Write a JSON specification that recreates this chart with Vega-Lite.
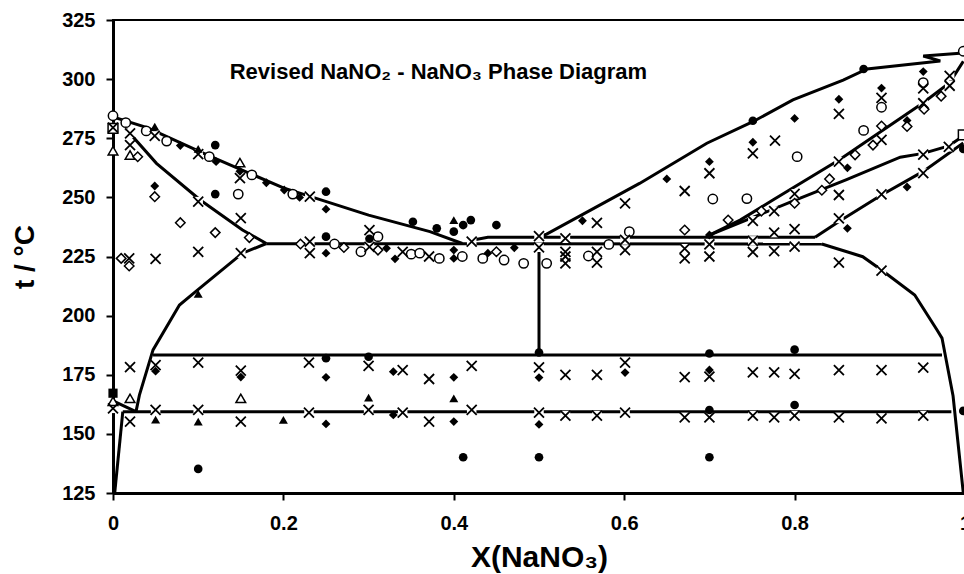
{
  "$schema": "https://vega.github.io/schema/vega-lite/v6.json",
  "width": 852,
  "height": 473,
  "autosize": {"type": "none"},
  "padding": {"left": 113, "top": 20, "right": 0, "bottom": 81},
  "background": "white",
  "config": {
    "view": {"stroke": "black", "strokeWidth": 2},
    "font": "Liberation Sans",
    "axis": {"grid": false, "domainColor": "black", "domainWidth": 3, "tickColor": "black", "tickWidth": 2, "tickSize": 7, "labelColor": "black", "titleColor": "black", "labelFont": "Liberation Sans", "titleFont": "Liberation Sans", "labelFontWeight": "bold", "titleFontWeight": "bold", "labelFontSize": 20}
  },
  "datasets": {
    "lines": [
      {"l":1,"o":0,"x":0,"y":284},{"l":1,"o":1,"x":0.04,"y":279.5},{"l":1,"o":2,"x":0.113,"y":267.5},{"l":1,"o":3,"x":0.2,"y":254},{"l":1,"o":4,"x":0.3,"y":242.5},{"l":1,"o":5,"x":0.372,"y":235.5},{"l":1,"o":6,"x":0.41,"y":230.5},
      {"l":2,"o":0,"x":0.015,"y":279},{"l":2,"o":1,"x":0.051,"y":264.4},{"l":2,"o":2,"x":0.102,"y":249},{"l":2,"o":3,"x":0.152,"y":236.2},{"l":2,"o":4,"x":0.18,"y":230.5},
      {"l":3,"o":0,"x":0.18,"y":230.4},{"l":3,"o":1,"x":0.832,"y":230.3},
      {"l":4,"o":0,"x":0.426,"y":232.2},{"l":4,"o":1,"x":0.44,"y":233.1},{"l":4,"o":2,"x":0.824,"y":233.1},
      {"l":5,"o":0,"x":0.5,"y":230.3},{"l":5,"o":1,"x":0.5,"y":184},
      {"l":6,"o":0,"x":0.5,"y":233.3},{"l":6,"o":1,"x":0.509,"y":234.5},{"l":6,"o":2,"x":0.618,"y":255.9},{"l":6,"o":3,"x":0.697,"y":272.9},{"l":6,"o":4,"x":0.751,"y":282},{"l":6,"o":5,"x":0.798,"y":291.2},{"l":6,"o":6,"x":0.857,"y":299.6},{"l":6,"o":7,"x":0.885,"y":304.3},{"l":6,"o":8,"x":0.971,"y":307.7},{"l":6,"o":9,"x":0.951,"y":309.8},{"l":6,"o":10,"x":0.998,"y":311},
      {"l":7,"o":0,"x":0.7,"y":234},{"l":7,"o":1,"x":0.736,"y":240.4},{"l":7,"o":2,"x":0.775,"y":249},{"l":7,"o":3,"x":0.853,"y":266},{"l":7,"o":4,"x":0.951,"y":290},{"l":7,"o":5,"x":0.982,"y":298.5},{"l":7,"o":6,"x":0.998,"y":307.5},
      {"l":8,"o":0,"x":0.7,"y":234},{"l":8,"o":1,"x":0.8,"y":248.7},{"l":8,"o":2,"x":0.861,"y":257.5},{"l":8,"o":3,"x":0.924,"y":267},{"l":8,"o":4,"x":0.951,"y":268.6},{"l":8,"o":5,"x":0.981,"y":271.8},{"l":8,"o":6,"x":0.998,"y":276},
      {"l":9,"o":0,"x":0.824,"y":233.1},{"l":9,"o":1,"x":0.853,"y":240},{"l":9,"o":2,"x":0.902,"y":251},{"l":9,"o":3,"x":0.951,"y":261},{"l":9,"o":4,"x":0.998,"y":273},
      {"l":10,"o":0,"x":0.832,"y":230.3},{"l":10,"o":1,"x":0.88,"y":224.9},{"l":10,"o":2,"x":0.902,"y":219.3},{"l":10,"o":3,"x":0.941,"y":208.7},{"l":10,"o":4,"x":0.967,"y":194},{"l":10,"o":5,"x":0.973,"y":190.5},{"l":10,"o":6,"x":0.986,"y":166},{"l":10,"o":7,"x":0.998,"y":125},
      {"l":11,"o":0,"x":0.047,"y":183.4},{"l":11,"o":1,"x":0.973,"y":183.4},
      {"l":12,"o":0,"x":0.0115,"y":159.4},{"l":12,"o":1,"x":0.984,"y":159.4},
      {"l":13,"o":0,"x":0.18,"y":230.5},{"l":13,"o":1,"x":0.152,"y":226.4},{"l":13,"o":2,"x":0.098,"y":210.5},{"l":13,"o":3,"x":0.078,"y":204.5},{"l":13,"o":4,"x":0.047,"y":185.5},{"l":13,"o":5,"x":0.031,"y":166.4},{"l":13,"o":6,"x":0.027,"y":159.4},
      {"l":14,"o":0,"x":0.002,"y":125},{"l":14,"o":1,"x":0.0115,"y":159.4},
      {"l":15,"o":0,"x":0,"y":164},{"l":15,"o":1,"x":0.027,"y":159.4}
    ],
    "pts": [
      {"s":"oc","x":0,"y":284.5},{"s":"oc","x":0.015,"y":281.6},{"s":"os","x":0,"y":279.2},{"s":"x","x":0,"y":279.5},{"s":"ot","x":0,"y":269.7},
      {"s":"x","x":0.02,"y":277.1},{"s":"x","x":0.02,"y":272.1},{"s":"ot","x":0.02,"y":267.9},{"s":"od","x":0.029,"y":267.2},{"s":"oc","x":0.039,"y":278.1},
      {"s":"ft","x":0.049,"y":279.9},{"s":"x","x":0.049,"y":276},{"s":"oc","x":0.063,"y":273.8},{"s":"fd","x":0.079,"y":271.9},{"s":"fc","x":0.12,"y":272.1},
      {"s":"x","x":0.1,"y":268.3},{"s":"ft","x":0.1,"y":270.5},{"s":"oc","x":0.113,"y":267.2},{"s":"fd","x":0.121,"y":265.1},{"s":"ot","x":0.149,"y":264.7},
      {"s":"x","x":0.149,"y":258.1},{"s":"fd","x":0.149,"y":261},{"s":"oc","x":0.163,"y":259.5},{"s":"fd","x":0.18,"y":256.2},{"s":"fd","x":0.201,"y":253.1},
      {"s":"oc","x":0.211,"y":251.4},{"s":"x","x":0.231,"y":250.3},{"s":"fc","x":0.25,"y":252.4},{"s":"fd","x":0.049,"y":254.8},{"s":"od","x":0.049,"y":250.3},
      {"s":"fc","x":0.12,"y":251.4},{"s":"oc","x":0.147,"y":251.4},{"s":"x","x":0.1,"y":248.2},{"s":"fd","x":0.219,"y":250},{"s":"fd","x":0.25,"y":245},
      {"s":"fc","x":0.352,"y":239.7},{"s":"od","x":0.079,"y":239.3},{"s":"od","x":0.12,"y":235.1},{"s":"x","x":0.15,"y":241.2},{"s":"od","x":0.16,"y":233},
      {"s":"x","x":0.1,"y":227},{"s":"x","x":0.15,"y":226.4},{"s":"od","x":0.0096,"y":224.2},{"s":"x","x":0.019,"y":224.2},{"s":"od","x":0.019,"y":221},
      {"s":"x","x":0.05,"y":224},{"s":"od","x":0.22,"y":230.3},{"s":"x","x":0.231,"y":231.3},{"s":"x","x":0.231,"y":226.4},{"s":"fc","x":0.25,"y":233.4},
      {"s":"oc","x":0.26,"y":230.3},{"s":"fd","x":0.25,"y":226.4},{"s":"od","x":0.271,"y":228.8},{"s":"x","x":0.301,"y":236.2},{"s":"oc","x":0.311,"y":233.4},
      {"s":"fc","x":0.301,"y":232.5},{"s":"x","x":0.301,"y":229.1},{"s":"oc","x":0.291,"y":227},{"s":"od","x":0.311,"y":227.7},{"s":"fd","x":0.321,"y":228.5},
      {"s":"fd","x":0.331,"y":224},{"s":"x","x":0.34,"y":227},{"s":"oc","x":0.35,"y":226},{"s":"oc","x":0.36,"y":226.4},{"s":"x","x":0.371,"y":225},
      {"s":"fc","x":0.38,"y":236.9},{"s":"ft","x":0.4,"y":240.4},{"s":"fc","x":0.4,"y":235.5},{"s":"fc","x":0.411,"y":238.3},{"s":"fc","x":0.42,"y":240.4},
      {"s":"fc","x":0.45,"y":238.3},{"s":"oc","x":0.383,"y":224.2},{"s":"fd","x":0.4,"y":224.2},{"s":"oc","x":0.41,"y":225},{"s":"x","x":0.421,"y":231.3},
      {"s":"fd","x":0.4,"y":227.7},{"s":"oc","x":0.434,"y":224.2},{"s":"fd","x":0.44,"y":226.4},{"s":"od","x":0.45,"y":227},{"s":"oc","x":0.459,"y":223.5},
      {"s":"fd","x":0.471,"y":228.7},{"s":"oc","x":0.482,"y":222.1},{"s":"x","x":0.5,"y":233.6},{"s":"x","x":0.5,"y":228.9},{"s":"oc","x":0.509,"y":222.1},
      {"s":"x","x":0.531,"y":232.7},{"s":"x","x":0.531,"y":227},{"s":"x","x":0.531,"y":225},{"s":"x","x":0.531,"y":222.1},{"s":"oc","x":0.558,"y":225.2},
      {"s":"x","x":0.568,"y":227},{"s":"x","x":0.568,"y":222.4},{"s":"oc","x":0.582,"y":230.1},{"s":"oc","x":0.606,"y":235.5},{"s":"x","x":0.601,"y":232},
      {"s":"x","x":0.601,"y":227.7},{"s":"x","x":0.601,"y":247.5},{"s":"fd","x":0.551,"y":240.1},{"s":"x","x":0.568,"y":239.2},{"s":"fd","x":0.65,"y":257.8},
      {"s":"x","x":0.671,"y":252.7},{"s":"fd","x":0.7,"y":265.1},{"s":"x","x":0.7,"y":260.2},{"s":"oc","x":0.704,"y":249.3},{"s":"od","x":0.671,"y":236.2},
      {"s":"x","x":0.671,"y":228.3},{"s":"x","x":0.671,"y":224.2},{"s":"fd","x":0.7,"y":234.1},{"s":"x","x":0.7,"y":230.1},{"s":"x","x":0.7,"y":225},
      {"s":"od","x":0.722,"y":240.4},{"s":"fc","x":0.751,"y":282.4},{"s":"fd","x":0.751,"y":273.3},{"s":"x","x":0.751,"y":268.6},{"s":"x","x":0.777,"y":274},
      {"s":"oc","x":0.744,"y":249.5},{"s":"oc","x":0.803,"y":267.2},{"s":"fd","x":0.8,"y":283.4},{"s":"fd","x":0.852,"y":291.5},{"s":"x","x":0.852,"y":285.3},
      {"s":"fc","x":0.881,"y":304.3},{"s":"fd","x":0.902,"y":296.2},{"s":"x","x":0.902,"y":292.1},{"s":"oc","x":0.902,"y":288.1},{"s":"oc","x":0.881,"y":278.3},
      {"s":"od","x":0.902,"y":280.2},{"s":"od","x":0.892,"y":272.1},{"s":"x","x":0.902,"y":274.3},{"s":"od","x":0.871,"y":268},{"s":"x","x":0.852,"y":265.1},
      {"s":"fd","x":0.862,"y":262.5},{"s":"od","x":0.841,"y":257.8},{"s":"od","x":0.832,"y":253},{"s":"x","x":0.8,"y":251.5},{"s":"x","x":0.852,"y":251},
      {"s":"x","x":0.902,"y":251.3},{"s":"fd","x":0.932,"y":254.4},{"s":"x","x":0.951,"y":260.3},{"s":"x","x":0.951,"y":268.1},{"s":"x","x":0.981,"y":271.4},
      {"s":"os","x":0.998,"y":276.4},{"s":"fc","x":0.998,"y":270.5},{"s":"fd","x":0.932,"y":282.5},{"s":"od","x":0.932,"y":280},{"s":"od","x":0.952,"y":287.3},
      {"s":"x","x":0.951,"y":289.8},{"s":"od","x":0.972,"y":292.8},{"s":"x","x":0.982,"y":297.2},{"s":"x","x":0.982,"y":301.4},{"s":"fd","x":0.951,"y":303.2},
      {"s":"oc","x":0.951,"y":298.5},{"s":"x","x":0.951,"y":296.1},{"s":"oc","x":0.998,"y":311.8},{"s":"od","x":0.761,"y":244.2},{"s":"x","x":0.751,"y":240.1},
      {"s":"x","x":0.776,"y":244.2},{"s":"od","x":0.8,"y":247.5},{"s":"x","x":0.8,"y":236.6},{"s":"x","x":0.776,"y":235.1},{"s":"x","x":0.852,"y":241.1},
      {"s":"fd","x":0.862,"y":236.9},{"s":"x","x":0.902,"y":219},{"s":"x","x":0.852,"y":222.4},{"s":"x","x":0.751,"y":231.6},{"s":"x","x":0.751,"y":226.9},
      {"s":"x","x":0.776,"y":227.3},{"s":"x","x":0.8,"y":229.2},
      {"s":"fc","x":0.7,"y":184},{"s":"fc","x":0.8,"y":185.6},{"s":"x","x":0.671,"y":174},{"s":"x","x":0.7,"y":174.2},{"s":"fd","x":0.7,"y":177},
      {"s":"x","x":0.751,"y":176},{"s":"x","x":0.776,"y":176},{"s":"x","x":0.8,"y":175.4},{"s":"x","x":0.852,"y":177},{"s":"x","x":0.902,"y":177},
      {"s":"x","x":0.951,"y":178},{"s":"fc","x":0.8,"y":162.2},{"s":"fc","x":0.7,"y":160.1},{"s":"x","x":0.671,"y":157},{"s":"x","x":0.7,"y":157},
      {"s":"x","x":0.751,"y":157.7},{"s":"x","x":0.776,"y":157},{"s":"x","x":0.8,"y":157.7},{"s":"x","x":0.852,"y":157},{"s":"x","x":0.902,"y":156.6},
      {"s":"x","x":0.951,"y":157.7},{"s":"fc","x":0.998,"y":159.7},{"s":"fc","x":0.7,"y":140.1},{"s":"x","x":0.34,"y":177},{"s":"x","x":0.371,"y":173.2},
      {"s":"fd","x":0.4,"y":173.9},{"s":"x","x":0.421,"y":178.8},{"s":"fc","x":0.5,"y":184.4},{"s":"x","x":0.5,"y":178.1},{"s":"fd","x":0.5,"y":173.8},
      {"s":"x","x":0.531,"y":174.9},{"s":"x","x":0.568,"y":174.9},{"s":"x","x":0.601,"y":180.1},{"s":"fd","x":0.601,"y":175.9},{"s":"ft","x":0.4,"y":165},
      {"s":"x","x":0.34,"y":159},{"s":"x","x":0.371,"y":155.2},{"s":"fd","x":0.4,"y":155.2},{"s":"x","x":0.421,"y":160.1},{"s":"x","x":0.5,"y":159},
      {"s":"fd","x":0.5,"y":154},{"s":"x","x":0.531,"y":157.7},{"s":"x","x":0.568,"y":157.7},{"s":"x","x":0.601,"y":159},{"s":"fc","x":0.411,"y":140.1},
      {"s":"fc","x":0.5,"y":140.1},{"s":"ft","x":0.1,"y":209.2},{"s":"x","x":0.02,"y":178.2},{"s":"x","x":0.05,"y":179.1},{"s":"fd","x":0.05,"y":176.5},
      {"s":"x","x":0.1,"y":180.1},{"s":"x","x":0.15,"y":176.7},{"s":"fd","x":0.15,"y":174},{"s":"x","x":0.23,"y":180.1},{"s":"fc","x":0.25,"y":182},
      {"s":"fd","x":0.25,"y":173.9},{"s":"fc","x":0.3,"y":182.6},{"s":"x","x":0.3,"y":178.8},{"s":"fd","x":0.329,"y":176.3},{"s":"fs","x":0,"y":167.2},
      {"s":"ot","x":0,"y":163.8},{"s":"x","x":0,"y":160.8},{"s":"ot","x":0.02,"y":165},{"s":"x","x":0.02,"y":155.2},{"s":"x","x":0.05,"y":160.1},
      {"s":"ft","x":0.05,"y":156},{"s":"x","x":0.1,"y":160.1},{"s":"ft","x":0.1,"y":155.2},{"s":"ot","x":0.15,"y":165},{"s":"x","x":0.15,"y":155.2},
      {"s":"ft","x":0.2,"y":155.9},{"s":"x","x":0.23,"y":159},{"s":"fd","x":0.25,"y":154.2},{"s":"ft","x":0.3,"y":165.3},{"s":"x","x":0.3,"y":160.1},
      {"s":"fd","x":0.329,"y":158},{"s":"fc","x":0.1,"y":135.2}
    ],
    "label": [{"x": 0.137, "y": 303, "t": "Revised NaNO₂ - NaNO₃ Phase Diagram"}]
  },
  "encoding": {
    "x": {"field": "x", "type": "quantitative", "scale": {"domain": [0, 1], "nice": false, "zero": false},
      "axis": {"values": [0, 0.2, 0.4, 0.6, 0.8, 1], "format": "~g", "labelPadding": 13, "title": "X(NaNO₃)", "titleFontSize": 30, "titlePadding": 9, "labelFlush": false, "labelOverlap": false}},
    "y": {"field": "y", "type": "quantitative", "scale": {"domain": [125, 325], "nice": false, "zero": false},
      "axis": {"values": [125, 150, 175, 200, 225, 250, 275, 300, 325], "labelPadding": 11, "title": "t / °C", "titleFontSize": 28, "titlePadding": 22, "labelFlush": false, "labelOverlap": false}}
  },
  "layer": [
    {"data": {"name": "lines"}, "mark": {"type": "line", "color": "black", "strokeWidth": 3, "clip": true},
      "encoding": {"detail": {"field": "l", "type": "nominal"}, "order": {"field": "o", "type": "quantitative"}}},
    {"data": {"name": "pts"}, "transform": [{"filter": {"field": "s", "equal": "x"}}],
      "mark": {"type": "point", "shape": "square", "filled": true, "fill": "white", "strokeWidth": 0, "size": 90, "opacity": 1}},
    {"data": {"name": "pts"}, "transform": [{"filter": {"field": "s", "oneOf": ["fc", "fd", "ft", "fs"]}}],
      "mark": {"type": "point", "filled": true, "color": "black", "opacity": 1},
      "encoding": {"shape": {"field": "s", "type": "nominal", "legend": null, "scale": {"domain": ["fc", "fd", "ft", "fs", "oc", "od", "ot", "os", "x"], "range": ["circle", "diamond", "triangle-up", "square", "circle", "diamond", "triangle-up", "square", "M-1,-1L1,1M-1,1L1,-1"]}},
        "size": {"field": "s", "type": "nominal", "legend": null, "scale": {"domain": ["fc", "fd", "ft", "fs", "oc", "od", "ot", "os", "x"], "range": [75, 100, 90, 64, 85, 80, 85, 64, 64]}}}},
    {"data": {"name": "pts"}, "transform": [{"filter": {"field": "s", "oneOf": ["oc", "od", "ot", "os"]}}],
      "mark": {"type": "point", "filled": true, "fill": "white", "stroke": "black", "strokeWidth": 1.5, "opacity": 1},
      "encoding": {"shape": {"field": "s", "type": "nominal", "legend": null}, "size": {"field": "s", "type": "nominal", "legend": null}}},
    {"data": {"name": "pts"}, "transform": [{"filter": {"field": "s", "equal": "x"}}],
      "mark": {"type": "point", "filled": false, "stroke": "black", "strokeWidth": 1.8, "opacity": 1},
      "encoding": {"shape": {"field": "s", "type": "nominal", "legend": null}, "size": {"field": "s", "type": "nominal", "legend": null}}},
    {"data": {"name": "label"}, "mark": {"type": "text", "align": "left", "baseline": "middle", "fontSize": 22, "fontWeight": "bold", "font": "Liberation Sans", "color": "black"},
      "encoding": {"text": {"field": "t"}}}
  ]
}
